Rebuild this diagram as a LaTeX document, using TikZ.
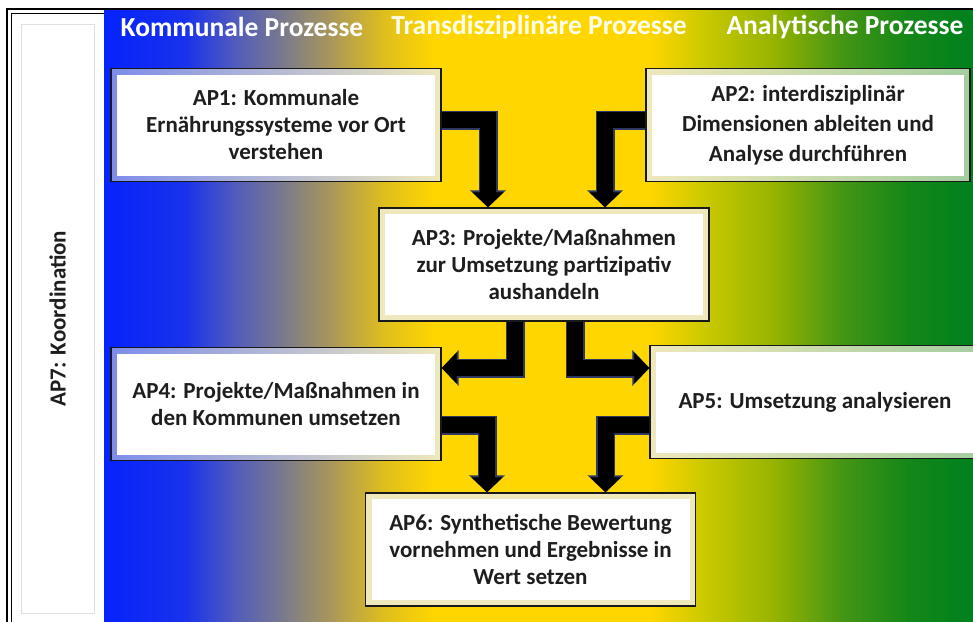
\documentclass[tikz,border=0pt]{standalone}
\usepackage{fontspec}
\setmainfont{Carlito}
\usetikzlibrary{arrows.meta, positioning}

\definecolor{pblue}{RGB}{5,35,252}
\definecolor{pblue2}{RGB}{25,50,235}
\definecolor{pslate}{RGB}{80,90,190}
\definecolor{pgrey}{RGB}{122,122,140}
\definecolor{polive}{RGB}{172,152,88}
\definecolor{pgold}{RGB}{222,190,30}
\definecolor{pyellow}{RGB}{255,214,0}
\definecolor{pyelgreen}{RGB}{200,200,0}
\definecolor{plime}{RGB}{150,180,0}
\definecolor{pgrass}{RGB}{70,150,20}
\definecolor{pgreen2}{RGB}{20,135,25}
\definecolor{pgreen}{RGB}{0,128,30}
\definecolor{frblue}{RGB}{125,140,235}
\definecolor{frcream}{RGB}{238,232,188}
\definecolor{frgreen}{RGB}{165,205,160}
\definecolor{textdark}{RGB}{30,30,30}
\definecolor{arrowedge}{RGB}{45,55,95}

\tikzset{
    apbox/.style 2 args={draw=black!90, line width=1.4pt, fill=white,
        minimum width=330pt, minimum height=113pt, align=center, text=textdark,
        font=\fontsize{23}{27}\selectfont\bfseries,
        path picture={
            \shade[left color=#1, right color=#2] (path picture bounding box.south west) rectangle (path picture bounding box.north east);
            \fill[white] ([shift={(6pt,6pt)}]path picture bounding box.south west) rectangle ([shift={(-6pt,-6pt)}]path picture bounding box.north east);
        }},
    header/.style={text=white, font=\fontsize{27.5}{30}\selectfont\bfseries},
    flow/.style={draw=black, line width=16pt, line join=miter,
        -{Triangle[width=30pt,length=15pt]},
        preaction={draw=arrowedge, line width=19pt, -{Triangle[width=35pt,length=17pt]}}}
}

\begin{document}
\begin{tikzpicture}[x=1pt, y=-1pt]
    \useasboundingbox (0,0) rectangle (973,621);
    \fill[white] (0,0) rectangle (973,621);
    % background
    \foreach \xa/\xb/\ca/\cb in {104/185/pblue/pblue2, 185/233/pblue2/pslate, 233/283/pslate/pgrey,
        283/333/pgrey/polive, 333/383/polive/pgold, 383/433/pgold/pyellow, 433/650/pyellow/pyellow,
        650/707/pyellow/pyelgreen, 707/773/pyelgreen/plime, 773/840/plime/pgrass,
        840/907/pgrass/pgreen2, 907/975/pgreen2/pgreen}
        \shade[left color=\ca, right color=\cb] (\xa,9) rectangle (\xb+0.6,625);
    \draw[line width=1.4pt] (7,625) -- (7,9) -- (975,9);
    \draw[line width=0.8pt] (11.5,625) -- (11.5,13.5) -- (104,13.5);

    % coordination panel
    \node[draw=black!12, line width=1pt, fill=white, minimum width=73pt, minimum height=589pt] (panel) at (57.5,318.5) {};
    \node[rotate=90, text=textdark, font=\fontsize{23}{27}\selectfont\bfseries] (ap7) at (panel.center) {AP7: Koordination};

    % headers
    \node[header] (kommunal) at (242,27) {Kommunale Prozesse};
    \node[header, text=white!92!yellow] (transdis) at (539,27) {Transdisziplinäre Prozesse};
    \node[header] (analytisch) at (845,27) {Analytische Prozesse};

    % work packages
    \node[apbox={frblue}{frcream}] (ap1) at (276,125) {AP1: Kommunale\\Ernährungssysteme vor Ort\\verstehen};
    \node[apbox={frcream}{frgreen}, minimum width=324pt, font=\fontsize{23}{30}\selectfont\bfseries] (ap2) at (808,125) {AP2: interdisziplinär\\Dimensionen ableiten und\\Analyse durchführen};
    \node[apbox={frcream}{frcream}] (ap3) at (544,264.5) {AP3: Projekte/Maßnahmen\\zur Umsetzung partizipativ\\aushandeln};
    \node[apbox={frblue}{frcream}] (ap4) at (276,404) {AP4: Projekte/Maßnahmen in\\den Kommunen umsetzen};
    \node[apbox={frcream}{frgreen}] (ap5) at (815,402) {AP5: Umsetzung analysieren};
    \node[apbox={frcream}{frcream}] (ap6) at (530.5,549.5) {AP6: Synthetische Bewertung\\vornehmen und Ergebnisse in\\Wert setzen};

    % flows
    \draw[flow] ([yshift=5pt]ap1.east) -| ([xshift=-56pt]ap3.north);
    \draw[flow] ([yshift=5pt]ap2.west) -| ([xshift=61pt]ap3.north);
    \draw[flow] ([xshift=-29pt]ap3.south) |- ([yshift=36pt]ap4.east);
    \draw[flow] ([xshift=31pt]ap3.south) |- ([yshift=34pt]ap5.west);
    \draw[flow] ([yshift=-21pt]ap4.east) -| ([xshift=-43.5pt]ap6.north);
    \draw[flow] ([yshift=-23pt]ap5.west) -| ([xshift=75pt]ap6.north);
\end{tikzpicture}
\end{document}
